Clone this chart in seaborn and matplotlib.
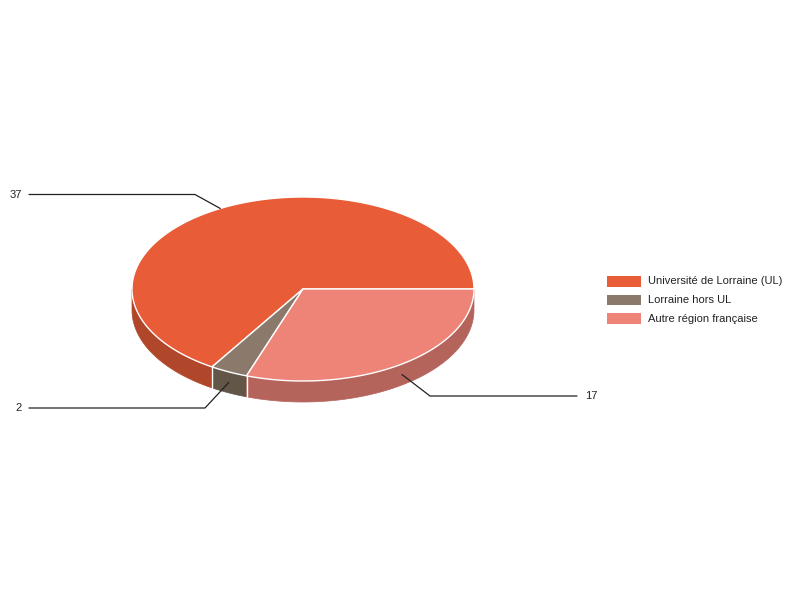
import numpy as np
import matplotlib
matplotlib.use("Agg")
import matplotlib.pyplot as plt
import seaborn as sns
from matplotlib.patches import Polygon, Rectangle

# data
categories = ["Université de Lorraine (UL)", "Lorraine hors UL", "Autre région française"]
counts = [37, 2, 17]
top_colors = ["#e85c38", "#8b7a6c", "#ee8377"]
side_colors = ["#b0462a", "#625649", "#b4645b"]

sns.set_theme(style="white")
plt.rcParams["font.family"] = ["Liberation Sans", "DejaVu Sans"]

fig = plt.figure(figsize=(8, 6), dpi=100)
ax = fig.add_axes([0, 0, 1, 1])
ax.set_xlim(0, 800)
ax.set_ylim(600, 0)
ax.axis("off")

# pie geometry (pixels)
cx, cy, rx, ry, depth = 303, 289, 171, 92, 21
fracs = np.array(counts) / np.sum(counts)
bounds = np.concatenate([[0], np.cumsum(fracs)]) * 2 * np.pi


def arc(a0, a1, dy=0, n=200):
    t = np.linspace(a0, a1, n)
    return np.column_stack([cx + rx * np.cos(t), cy - ry * np.sin(t) + dy])


## side walls (front half only)
for i in range(len(counts)):
    a0, a1 = max(bounds[i], np.pi), min(bounds[i + 1], 2 * np.pi)
    if a1 <= a0:
        continue
    top = arc(a0, a1)
    bot = arc(a0, a1, depth)[::-1]
    ax.add_patch(Polygon(np.vstack([top, bot]), closed=True,
                         facecolor=side_colors[i], edgecolor=side_colors[i],
                         linewidth=0.5, zorder=1))
for b in bounds[1:-1]:
    if np.pi < b < 2 * np.pi:
        p = arc(b, b, n=1)[0]
        ax.plot([p[0], p[0]], [p[1], p[1] + depth], color="white", lw=1, zorder=2)

## top faces
for i in range(len(counts)):
    pts = np.vstack([[cx, cy], arc(bounds[i], bounds[i + 1])])
    ax.add_patch(Polygon(pts, closed=True, facecolor=top_colors[i],
                         edgecolor="white", linewidth=1, zorder=3))

## leader lines and value labels
label_pos = [(195, 194.5, 29, "right"), (205, 408, 29, "right"), (430, 396, 577, "left")]
for i, (kx, ky, ex, ha) in enumerate(label_pos):
    mid = (bounds[i] + bounds[i + 1]) / 2
    ax_pt = arc(mid, mid, n=1)[0]
    if np.sin(mid) < 0:
        ax_pt[1] += depth / 2
    ax.plot([ax_pt[0], kx, ex], [ax_pt[1], ky, ky], color="#222222", lw=0.9, zorder=4)
    tx = ex - 7 if ha == "right" else ex + 8
    ax.text(tx, ky, str(counts[i]), ha=ha, va="center", fontsize=8, color="#222222")

## legend
for i, (lab, col) in enumerate(zip(categories, top_colors)):
    y0 = 276 + i * 18.5
    ax.add_patch(Rectangle((607, y0), 34, 10.5, facecolor=col, edgecolor="none"))
    ax.text(648, y0 + 5.5, lab, ha="left", va="center", fontsize=8, color="#222222")

fig.savefig("out.png", dpi=100)
